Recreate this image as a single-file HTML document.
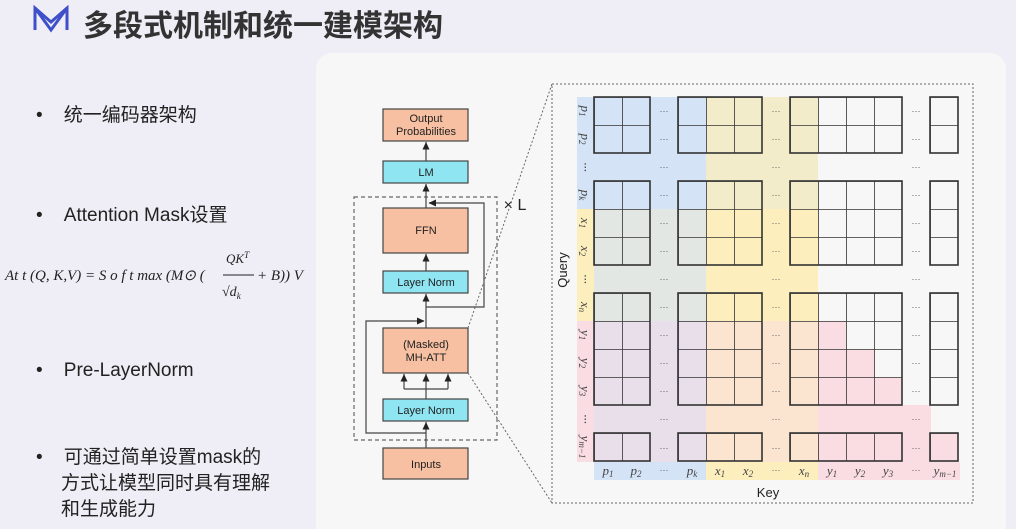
<!DOCTYPE html>
<html><head><meta charset="utf-8"><style>
html,body{margin:0;padding:0;}
body{width:1016px;height:529px;background:#efeef6;position:relative;overflow:hidden;font-family:"Liberation Sans","Noto Sans CJK SC",sans-serif;color:#222;}
.t{position:absolute;white-space:nowrap;}
</style></head><body>
<svg width="1016" height="529" style="position:absolute;left:0;top:0" xmlns="http://www.w3.org/2000/svg">
<defs>
<pattern id="g" x="6" y="13" width="28" height="28" patternUnits="userSpaceOnUse">
<path d="M0 0H28M0 0V28" stroke="#333" stroke-width="1.6" fill="none"/>
</pattern>
<marker id="a" markerWidth="8" markerHeight="8" refX="4" refY="0" orient="0" markerUnits="userSpaceOnUse" overflow="visible">
<path d="M0.5 7.5L4 0L7.5 7.5Z" fill="#222"/></marker>
<marker id="ar" markerWidth="8" markerHeight="8" refX="7" refY="4" orient="0" markerUnits="userSpaceOnUse">
<path d="M7.5 4L0 0.5L0 7.5Z" fill="#222"/></marker>
<marker id="al" markerWidth="8" markerHeight="8" refX="1" refY="4" orient="0" markerUnits="userSpaceOnUse">
<path d="M0.5 4L8 0.5L8 7.5Z" fill="#222"/></marker>
</defs>
<rect x="316" y="53" width="690" height="490" rx="16" fill="#f7f7f8"/>
<g fill="none" stroke="#3f4fc9" stroke-width="3">
<path d="M35 30V8L51 22L67 8V30"/><path d="M35 8L51 30L67 8"/>
</g>
<g stroke="#444" stroke-width="1.2" font-size="11" text-anchor="middle" fill="#222">
<rect x="354" y="197" width="143" height="243" fill="none" stroke="#666" stroke-dasharray="4,3"/>
<line x1="426" y1="448" x2="426" y2="422" marker-end="url(#a)"/>
<line x1="426" y1="399" x2="426" y2="374" marker-end="url(#a)"/>
<polyline points="404,389 448,389" fill="none"/>
<line x1="404" y1="389" x2="404" y2="374" marker-end="url(#a)"/>
<line x1="448" y1="389" x2="448" y2="374" marker-end="url(#a)"/>
<polyline points="426,433 366,433 366,321 424,321" fill="none" marker-end="url(#ar)"/>
<line x1="426" y1="328" x2="426" y2="294" marker-end="url(#a)"/>
<line x1="426" y1="271" x2="426" y2="254" marker-end="url(#a)"/>
<polyline points="426,307 484,307 484,203 429,203" fill="none" marker-end="url(#al)"/>
<line x1="426" y1="208" x2="426" y2="184" marker-end="url(#a)"/>
<line x1="426" y1="161" x2="426" y2="142" marker-end="url(#a)"/>
<rect x="383" y="109" width="85" height="32" fill="#f8c0a2"/>
<rect x="383" y="161" width="85" height="22" fill="#8fe6f2"/>
<rect x="383" y="208" width="85" height="45" fill="#f8c0a2"/>
<rect x="383" y="271" width="85" height="22" fill="#8fe6f2"/>
<rect x="383" y="328" width="85" height="45" fill="#f8c0a2"/>
<rect x="383" y="399" width="85" height="22" fill="#8fe6f2"/>
<rect x="383" y="448" width="85" height="31" fill="#f8c0a2"/>
<g stroke="none">
<text x="426" y="122">Output</text><text x="426" y="135">Probabilities</text>
<text x="426" y="176">LM</text>
<text x="426" y="234">FFN</text>
<text x="426" y="286">Layer Norm</text>
<text x="426" y="348">(Masked)</text><text x="426" y="361">MH-ATT</text>
<text x="426" y="414">Layer Norm</text>
<text x="426" y="468">Inputs</text>
<text x="515" y="210" font-size="16">× L</text>
</g>
</g>
<g stroke="#666" stroke-width="1" stroke-dasharray="2,2" fill="none">
<line x1="468" y1="328" x2="552" y2="84"/>
<line x1="468" y1="373" x2="552" y2="503"/>
<rect x="552" y="84" width="421" height="419"/>
</g>
<rect x="594" y="97" width="112" height="383" fill="#d5e3f7"/>
<rect x="706" y="97" width="112" height="383" fill="#fcefbd"/>
<rect x="577" y="97" width="17" height="112" fill="#d5e3f7"/>
<rect x="577" y="209" width="17" height="112" fill="#fcefbd"/>
<rect x="577" y="321" width="17" height="141" fill="#f9dde2"/>
<rect x="818" y="462" width="142" height="18" fill="#f9dde2"/>
<rect x="706" y="97" width="112" height="112" fill="#d5e3f7" opacity="0.25"/>
<rect x="594" y="209" width="112" height="112" fill="#fcefbd" opacity="0.35"/>
<rect x="594" y="321" width="224" height="141" fill="#f9dde2" opacity="0.55"/>
<g fill="#f9dde2">
<rect x="818" y="321" width="28" height="28"/>
<rect x="818" y="349" width="56" height="28"/>
<rect x="818" y="377" width="84" height="28"/>
<rect x="818" y="405" width="113" height="28"/>
<rect x="818" y="433" width="140" height="29"/>
</g>
<g fill="url(#g)" stroke="#333" stroke-width="1.6">
<rect x="594" y="97" width="56" height="56"/><rect x="678" y="97" width="84" height="56"/><rect x="790" y="97" width="112" height="56"/><rect x="930" y="97" width="28" height="56"/>
<rect x="594" y="181" width="56" height="84"/><rect x="678" y="181" width="84" height="84"/><rect x="790" y="181" width="112" height="84"/><rect x="930" y="181" width="28" height="84"/>
<rect x="594" y="293" width="56" height="112"/><rect x="678" y="293" width="84" height="112"/><rect x="790" y="293" width="112" height="112"/><rect x="930" y="293" width="28" height="112"/>
<rect x="594" y="433" width="56" height="28"/><rect x="678" y="433" width="84" height="28"/><rect x="790" y="433" width="112" height="28"/><rect x="930" y="433" width="28" height="28"/>
</g>
<g font-size="9" fill="#555" text-anchor="middle" font-family="Liberation Sans">
<g id="dr">
<text x="664" y="114">···</text><text x="776" y="114">···</text><text x="916" y="114">···</text>
</g>
<use href="#dr" y="28"/><use href="#dr" y="56"/><use href="#dr" y="84"/><use href="#dr" y="112"/><use href="#dr" y="140"/><use href="#dr" y="168"/><use href="#dr" y="196"/><use href="#dr" y="224"/><use href="#dr" y="252"/><use href="#dr" y="280"/><use href="#dr" y="308"/><use href="#dr" y="337"/>
<text x="664" y="473">···</text><text x="776" y="473">···</text><text x="916" y="473">···</text>
</g>
<g font-family="Liberation Serif" font-style="italic" font-size="13" fill="#444" text-anchor="middle">
<text transform="translate(581,111) rotate(90)">p<tspan font-size="9" dy="2">1</tspan></text>
<text transform="translate(581,139) rotate(90)">p<tspan font-size="9" dy="2">2</tspan></text>
<text transform="translate(581,167) rotate(90)">···</text>
<text transform="translate(581,195) rotate(90)">p<tspan font-size="9" dy="2">k</tspan></text>
<text transform="translate(581,223) rotate(90)">x<tspan font-size="9" dy="2">1</tspan></text>
<text transform="translate(581,251) rotate(90)">x<tspan font-size="9" dy="2">2</tspan></text>
<text transform="translate(581,279) rotate(90)">···</text>
<text transform="translate(581,307) rotate(90)">x<tspan font-size="9" dy="2">n</tspan></text>
<text transform="translate(581,335) rotate(90)">y<tspan font-size="9" dy="2">1</tspan></text>
<text transform="translate(581,363) rotate(90)">y<tspan font-size="9" dy="2">2</tspan></text>
<text transform="translate(581,391) rotate(90)">y<tspan font-size="9" dy="2">3</tspan></text>
<text transform="translate(581,419) rotate(90)">···</text>
<text transform="translate(581,447) rotate(90)">y<tspan font-size="9" dy="2">m−1</tspan></text>
<text x="608" y="475">p<tspan font-size="9" dy="2">1</tspan></text>
<text x="636" y="475">p<tspan font-size="9" dy="2">2</tspan></text>
<text x="692" y="475">p<tspan font-size="9" dy="2">k</tspan></text>
<text x="720" y="475">x<tspan font-size="9" dy="2">1</tspan></text>
<text x="748" y="475">x<tspan font-size="9" dy="2">2</tspan></text>
<text x="804" y="475">x<tspan font-size="9" dy="2">n</tspan></text>
<text x="832" y="475">y<tspan font-size="9" dy="2">1</tspan></text>
<text x="860" y="475">y<tspan font-size="9" dy="2">2</tspan></text>
<text x="888" y="475">y<tspan font-size="9" dy="2">3</tspan></text>
<text x="945" y="475">y<tspan font-size="9" dy="2">m−1</tspan></text>
</g>
<text x="768" y="497" font-size="13" text-anchor="middle" fill="#222">Key</text>
<text transform="translate(567,270) rotate(-90)" font-size="13" text-anchor="middle" fill="#222">Query</text>
<text x="5" y="280" font-family="Liberation Serif" font-style="italic" font-size="15" fill="#222">At t (Q, K,V) = S o f t max (M⊙ (</text>
<text x="226" y="263" font-family="Liberation Serif" font-style="italic" font-size="13" fill="#222">QK<tspan font-size="9" dy="-5">T</tspan></text>
<line x1="223" y1="275" x2="254" y2="275" stroke="#222" stroke-width="1"/>
<text x="222" y="296" font-family="Liberation Serif" font-style="italic" font-size="14" fill="#222">√d<tspan font-size="9" dy="3">k</tspan></text>
<text x="257" y="280" font-family="Liberation Serif" font-style="italic" font-size="15" fill="#222">+ B)) V</text>
</svg>
<div class="t" style="left:83px;top:1px;font-size:30px;font-weight:bold;color:#333;">多段式机制和统一建模架构</div>
<div class="t" style="left:36px;top:100px;font-size:19px;">•&nbsp;&nbsp;&nbsp;&nbsp;统一编码器架构</div>
<div class="t" style="left:36px;top:200px;font-size:19px;">•&nbsp;&nbsp;&nbsp;&nbsp;Attention Mask设置</div>
<div class="t" style="left:36px;top:360px;font-size:19px;">•&nbsp;&nbsp;&nbsp;&nbsp;Pre-LayerNorm</div>
<div class="t" style="left:36px;top:445px;font-size:19px;line-height:26px;">•&nbsp;&nbsp;&nbsp;&nbsp;可通过简单设置mask的<br><span style="padding-left:25px">方式让模型同时具有理解</span><br><span style="padding-left:25px">和生成能力</span></div>
</body></html>
